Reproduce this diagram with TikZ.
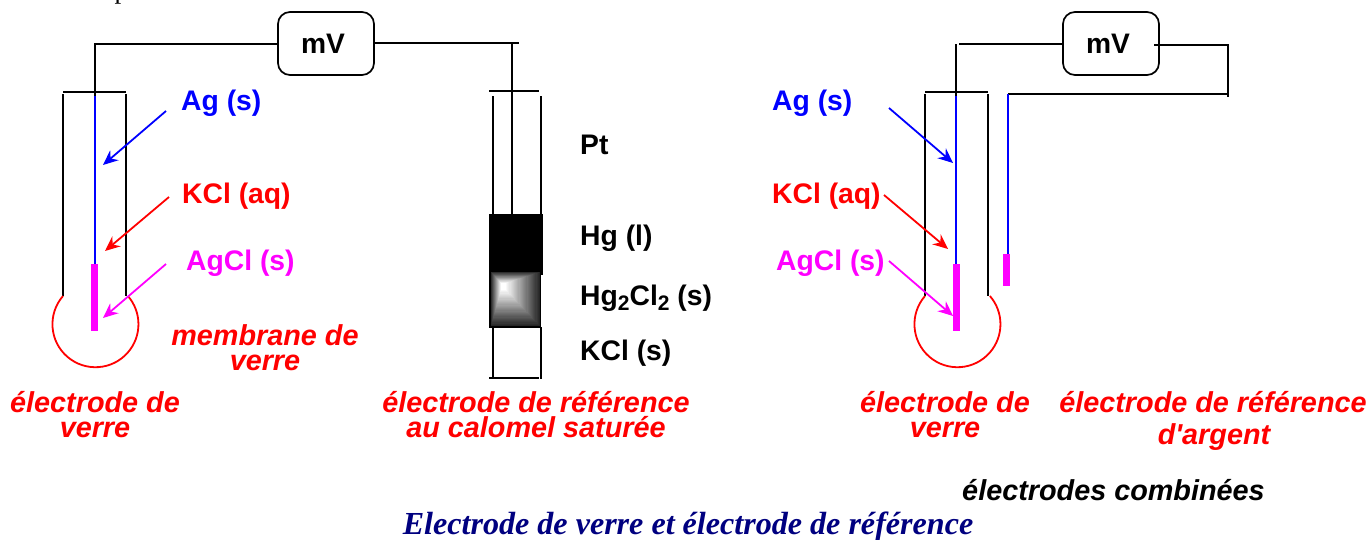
\documentclass[tikz,border=0pt]{standalone}
\usepackage{fontspec}
\setmainfont{Liberation Sans}
\newfontfamily\plainsans{Liberation Sans}
\newfontfamily\serifti{Liberation Serif}
\usetikzlibrary{arrows.meta}
\definecolor{agblue}{RGB}{0,0,255}
\definecolor{clred}{RGB}{255,0,0}
\definecolor{agcl}{RGB}{255,0,255}
\definecolor{titlenavy}{RGB}{0,0,128}
\tikzset{
  x=1pt,y=1pt,
  wire/.style={line width=2pt,black},
  silver/.style={line width=2pt,agblue},
  glass/.style={line width=1.8pt,clred},
  pointer/.style={line width=1.8pt,-{Stealth[length=15pt,width=13pt,inset=5pt]}},
  meter/.style={draw,line width=1.7pt,rounded corners=12pt,minimum width=96pt,minimum height=63pt,inner sep=0pt,fill=white,font=\fontsize{28.2}{28}\selectfont\bfseries},
  chem/.style={anchor=base west,inner sep=0pt,font=\fontsize{28.3}{28}\selectfont\bfseries},
  caplabel/.style={anchor=base,inner sep=0pt,font=\fontsize{28.8}{28.8}\selectfont\bfseries\itshape},
}
\begin{document}
\begin{tikzpicture}
\useasboundingbox (0,0) rectangle (1371,-539);
\clip (0,0) rectangle (1371,-539);
\fill[white] (0,0) rectangle (1371,-539);
\node[anchor=base west,inner sep=0pt,font=\serifti\fontsize{27}{27}\selectfont] (pfrag) at (114.5,2) {p};

% --- left: glass electrode
\node[meter] (mvL) at (326,-43.5) {mV\rule{6pt}{0pt}};
\coordinate (lcorner) at (95,-43);
\coordinate (ltop) at (95,-96);
\coordinate (lcap1) at (63,-92);
\coordinate (lcap2) at (126,-92);
\coordinate (lm) at (95,-264);
\draw[wire] (mvL.west) -- (mvL.west -| lcorner) -- (ltop);
\draw[wire] (lcap1) -- (lcap2);
\draw[wire] (63,-94) -- (63,-296);
\draw[wire] (126,-94) -- (126,-296);
\draw[silver] (ltop) -- (lm);
\fill[agcl] (91,-264) rectangle (98,-331);
\draw[glass] (63,-296) arc[start angle=139,end angle=401,radius=43];
\node[chem,text=agblue] (lag) at (181,-110) {Ag (s)};
\node[chem,text=clred] (lkcl) at (182,-203) {KCl (aq)};
\node[chem,text=agcl] (lagcl) at (186,-270) {AgCl (s)};
\coordinate (la1) at (166,-111); \coordinate (la2) at (103,-165);
\coordinate (lb1) at (169,-197); \coordinate (lb2) at (105,-251);
\coordinate (lc1) at (166,-264); \coordinate (lc2) at (103,-318);
\draw[pointer,agblue] (la1) -- (la2);
\draw[pointer,clred] (lb1) -- (lb2);
\draw[pointer,agcl] (lc1) -- (lc2);
\node[caplabel,text=clred] (memb1) at (265,-345) {membrane de};
\node[caplabel,text=clred] (memb2) at (265,-370) {verre};
\node[caplabel,text=clred] (el1) at (95,-412) {électrode de};
\node[caplabel,text=clred] (el2) at (95,-437) {verre};

% --- middle: calomel electrode
\coordinate (mend) at (519,-43);
\coordinate (mw) at (512,-43);
\coordinate (mwb) at (512,-214);
\draw[wire] (mvL.east |- mend) -- (mend);
\draw[wire] (mw) -- (mwb);
\draw[wire] (489,-91) -- (539,-91);
\draw[wire] (493,-96) -- (493,-214);
\draw[wire] (541,-96) -- (541,-214);
\fill[black] (489,-214) rectangle (543,-275);
\fill[black] (489,-271) rectangle (541,-328);
\foreach \i in {0,...,30}{
  \pgfmathsetmacro{\f}{\i/30}
  \pgfmathsetmacro{\shade}{15+85*\f}
  \pgfmathsetmacro{\xa}{491+(501-491)*\f}
  \pgfmathsetmacro{\xb}{540+(506-540)*\f}
  \pgfmathsetmacro{\ya}{-272-11*\f}
  \pgfmathsetmacro{\yb}{-326+36*\f}
  \fill[white!\shade!black] (\xa,\ya) rectangle (\xb,\yb);
}
\draw[wire] (493,-327) -- (493,-378);
\draw[wire] (541,-327) -- (541,-379);
\draw[wire] (489,-378) -- (539,-378);
\node[chem] (pt) at (580,-154) {Pt};
\node[chem] (hg) at (580,-245) {Hg (l)};
\node[chem] (cal) at (580,-305) {Hg\raisebox{-5.5pt}{\fontsize{21}{21}\selectfont 2}Cl\raisebox{-5.5pt}{\fontsize{21}{21}\selectfont 2} (s)};
\node[chem] (kcls) at (580,-360) {KCl (s)};
\node[caplabel,text=clred] (r1) at (536,-412) {électrode de référence};
\node[caplabel,text=clred] (r2) at (536,-437) {au calomel saturée};

% --- right: combined electrodes
\node[meter] (mvR) at (1111,-43.5) {mV\rule{6pt}{0pt}};
\coordinate (rcorner) at (956,-44);
\coordinate (rtop) at (956,-96);
\coordinate (rm) at (956,-264);
\draw[wire] (mvR.west |- rcorner) -- (959,-44);
\draw[wire] (rcorner) -- (rtop);
\draw[wire] (925,-92) -- (988,-92);
\draw[wire] (925,-94) -- (925,-296);
\draw[wire] (988,-94) -- (988,-296);
\draw[silver] (rtop) -- (rm);
\fill[agcl] (953,-264) rectangle (960,-331);
\draw[glass] (925,-296) arc[start angle=139,end angle=401,radius=43];
\coordinate (rr1) at (1154,-45);
\coordinate (rr2) at (1228,-45);
\coordinate (rr3) at (1228,-94);
\coordinate (rr4) at (1008,-94);
\coordinate (rr5) at (1008,-254);
\draw[wire] (rr1) -- (rr2) -- (1228,-97);
\draw[wire] (rr3) -- (rr4);
\draw[silver] (rr4) -- (rr5);
\fill[agcl] (1003,-254) rectangle (1010,-286);
\node[chem,text=agblue] (rag) at (772,-110) {Ag (s)};
\node[chem,text=clred] (rkcl) at (772,-203) {KCl (aq)};
\node[chem,text=agcl] (ragcl) at (776,-270) {AgCl (s)};
\coordinate (ra1) at (889,-108); \coordinate (ra2) at (953,-163);
\coordinate (rb1) at (884,-195); \coordinate (rb2) at (948,-249);
\coordinate (rc1) at (889,-261); \coordinate (rc2) at (953,-316);
\draw[pointer,agblue] (ra1) -- (ra2);
\draw[pointer,clred] (rb1) -- (rb2);
\draw[pointer,agcl] (rc1) -- (rc2);
\node[caplabel,text=clred] (re1) at (945,-412) {électrode de};
\node[caplabel,text=clred] (re2) at (945,-437) {verre};
\node[caplabel,text=clred] (ra) at (1213,-412) {électrode de référence};
\node[caplabel,text=clred] (rb) at (1214,-444) {\plainsans d'argent};
\node[caplabel] (comb) at (1113.5,-500.5) {électrodes combinées};
\node[anchor=base,inner sep=0pt,text=titlenavy,font=\serifti\fontsize{32.1}{32}\selectfont\bfseries\itshape] (title) at (688,-534.5) {Electrode de verre et électrode de référence};
\end{tikzpicture}
\end{document}
